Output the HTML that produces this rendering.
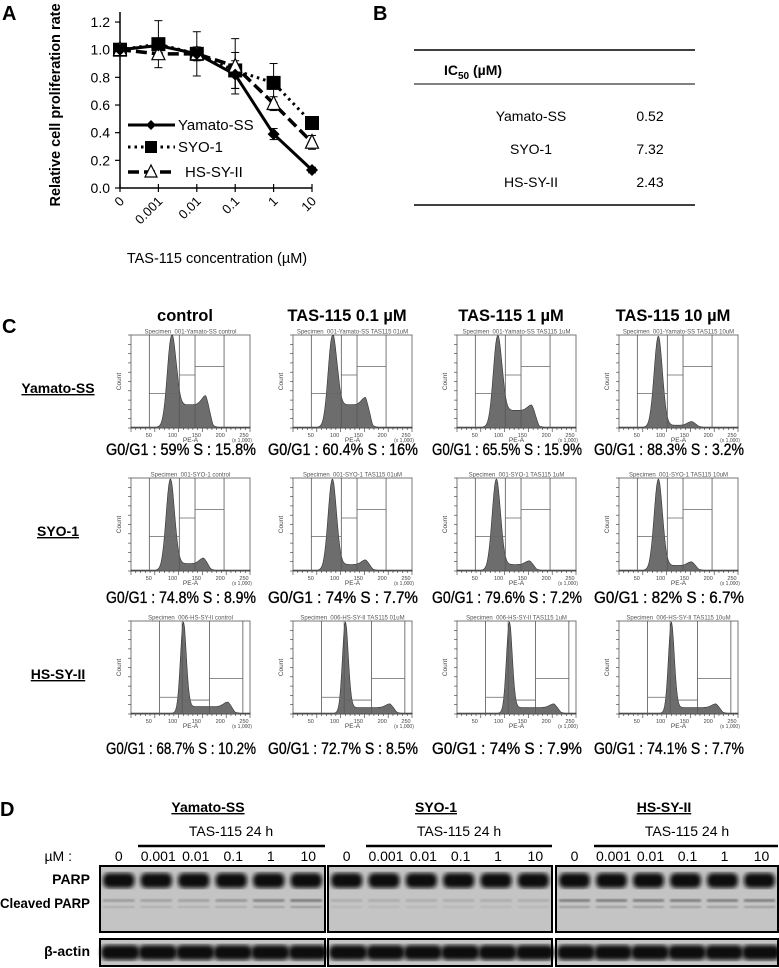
<!DOCTYPE html>
<html><head><meta charset="utf-8"><style>
html,body{margin:0;padding:0;background:#fff}
svg{display:block;font-family:"Liberation Sans",sans-serif}
</style></head><body>
<svg id="fig" width="779" height="968" viewBox="0 0 779 968" xmlns="http://www.w3.org/2000/svg">
<defs>
<filter id="blur2"><feGaussianBlur stdDeviation="2"/></filter>
<filter id="blur1"><feGaussianBlur stdDeviation="1"/></filter>
</defs>
<g id="panelA">
<text x="2" y="20" font-size="20" font-weight="bold">A</text>
<text transform="translate(60,105) rotate(-90)" text-anchor="middle" font-size="14.5" font-weight="bold">Relative cell proliferation rate</text>
<text x="217" y="263" text-anchor="middle" font-size="14.5">TAS-115 concentration (µM)</text>
</g>
<g>
<text x="373" y="20" font-size="20" font-weight="bold">B</text>
<line x1="414" y1="50" x2="695" y2="50" stroke="#000" stroke-width="1.5"/>
<text x="444" y="75" font-size="14" font-weight="bold">IC<tspan font-size="10" dy="4">50</tspan><tspan dy="-4"> (µM)</tspan></text>
<line x1="414" y1="84" x2="695" y2="84" stroke="#000" stroke-width="1"/>
<text x="531" y="121" text-anchor="middle" font-size="14">Yamato-SS</text>
<text x="650" y="121" text-anchor="middle" font-size="14">0.52</text>
<text x="531" y="154" text-anchor="middle" font-size="14">SYO-1</text>
<text x="650" y="154" text-anchor="middle" font-size="14">7.32</text>
<text x="531" y="187" text-anchor="middle" font-size="14">HS-SY-II</text>
<text x="650" y="187" text-anchor="middle" font-size="14">2.43</text>
<line x1="414" y1="205" x2="695" y2="205" stroke="#000" stroke-width="1.5"/>
</g>
<g id="panelC">
<text x="2" y="333" font-size="20" font-weight="bold">C</text>
</g>
<g id="panelD">
<text x="0" y="816" font-size="20" font-weight="bold">D</text>
</g>
</svg>
<script>
const NS="http://www.w3.org/2000/svg";
function mk(tag,attrs,parent,txt){const e=document.createElementNS(NS,tag);for(const k in attrs)e.setAttribute(k,attrs[k]);if(txt!==undefined)e.textContent=txt;parent.appendChild(e);return e;}
// ---------- Panel A data ----------
const concLabels=['0','0.001','0.01','0.1','1','10'];
const yTicks=[0,0.2,0.4,0.6,0.8,1.0,1.2];
const yamatoVals=[1.0,1.03,0.97,0.82,0.39,0.13];
const syoVals=[1.0,1.04,0.97,0.85,0.76,0.47];
const hsVals=[1.0,0.97,0.97,0.88,0.61,0.33];
const yamatoErr=[0,0.03,0.03,0.10,0.04,0.02];
const syoErr=[0,0.17,0.16,0.13,0.14,0.03];
const hsErr=[0,0.04,0.05,0.20,0.05,0.05];

const A=document.getElementById('panelA');
const ax=i=>120+i*38.4;
const ay=v=>188-v*138.3;
mk('line',{x1:120,y1:ay(0),x2:312,y2:ay(0),stroke:'#000','stroke-width':1.5},A);
mk('line',{x1:120,y1:ay(0),x2:120,y2:12,stroke:'#000','stroke-width':1.5},A);
yTicks.forEach(v=>{
  mk('line',{x1:115,y1:ay(v),x2:120,y2:ay(v),stroke:'#000','stroke-width':1.2},A);
  const t=mk('text',{x:110,y:ay(v)+5,'text-anchor':'end','font-size':14},A,v.toFixed(1));
  
  
});
concLabels.forEach((c,i)=>{
  mk('line',{x1:ax(i),y1:ay(0)-4,x2:ax(i),y2:ay(0)+4,stroke:'#000','stroke-width':1.2},A);
  const t=mk('text',{x:0,y:0,'text-anchor':'end','font-size':13,transform:`translate(${ax(i)+5},${ay(0)+14}) rotate(-45)`},A,c);
  
  
});
function errbars(vals,errs){vals.forEach((v,i)=>{if(!errs[i])return;const x=ax(i);
  mk('line',{x1:x,y1:ay(v-errs[i]),x2:x,y2:ay(v+errs[i]),stroke:'#000','stroke-width':1},A);
  mk('line',{x1:x-4,y1:ay(v+errs[i]),x2:x+4,y2:ay(v+errs[i]),stroke:'#000','stroke-width':1},A);
  mk('line',{x1:x-4,y1:ay(v-errs[i]),x2:x+4,y2:ay(v-errs[i]),stroke:'#000','stroke-width':1},A);});}
errbars(syoVals,syoErr);errbars(hsVals,hsErr);errbars(yamatoVals,yamatoErr);
function series(vals,dash,w,name){const p=mk('polyline',{points:vals.map((v,i)=>ax(i)+','+ay(v)).join(' '),fill:'none',stroke:'#000','stroke-width':w,'stroke-dasharray':dash,'stroke-linecap':dash?'butt':'round'},A);
  
  }
series(syoVals,'2.5,4',3,'line-syo1');
series(hsVals,'11,5',3.5,'line-hs-sy-ii');
series(yamatoVals,'',3,'line-yamato-ss');
function sq(x,y,s){return mk('rect',{x:x-s/2,y:y-s/2,width:s,height:s,fill:'#000'},A);}
function tri(x,y,s){return mk('polygon',{points:`${x},${y-s*0.6} ${x-s/2},${y+s*0.45} ${x+s/2},${y+s*0.45}`,fill:'#fff',stroke:'#000','stroke-width':1.2},A);}
function dia(x,y,s){return mk('polygon',{points:`${x},${y-s} ${x+s},${y} ${x},${y+s} ${x-s},${y}`,fill:'#000'},A);}
syoVals.forEach((v,i)=>{const m=sq(ax(i),ay(v),14);});
hsVals.forEach((v,i)=>{const m=tri(ax(i),ay(v),13);});
yamatoVals.forEach((v,i)=>{const m=dia(ax(i),ay(v),6);});
const leg=[['Yamato-SS',125,'',3],['SYO-1',147,'2.5,4',3],['HS-SY-II',172,'11,5',3.5]];
leg.forEach((l,k)=>{const g=mk('g',{},A);
  
  
  mk('line',{x1:128,y1:l[1],x2:175,y2:l[1],stroke:'#000','stroke-width':l[3],'stroke-dasharray':l[2]},g);
  if(k===0)mk('polygon',{points:`151,${l[1]-5} 156,${l[1]} 151,${l[1]+5} 146,${l[1]}`,fill:'#000'},g);
  if(k===1)mk('rect',{x:145,y:l[1]-6,width:12,height:12,fill:'#000'},g);
  if(k===2)mk('polygon',{points:`151,${l[1]-7} 145,${l[1]+5} 157,${l[1]+5}`,fill:'#fff',stroke:'#000','stroke-width':1.2},g);
  mk('text',{x:k===2?185:178,y:l[1]+5,'font-size':15},g,l[0]);
});
// ---------- Panel C ----------
const C=document.getElementById('panelC');
const colLabels=['control','TAS-115 0.1 µM','TAS-115 1 µM','TAS-115 10 µM'];
const rowLabels=['Yamato-SS','SYO-1','HS-SY-II'];
const g1Vals=[['59%','60.4%','65.5%','88.3%'],['74.8%','74%','79.6%','82%'],['68.7%','72.7%','74%','74.1%']];
const sVals=[['15.8%','16%','15.9%','3.2%'],['8.9%','7.7%','7.2%','6.7%'],['10.2%','8.5%','7.9%','7.7%']];
const g1Pos=[[0.34,0.33,0.34,0.33],[0.33,0.33,0.33,0.33],[0.44,0.44,0.44,0.44]];
const sLevel=[[0.24,0.24,0.18,0.02],[0.07,0.06,0.06,0.05],[0.07,0.06,0.06,0.06]];
const g2Height=[[0.10,0.08,0.06,0.04],[0.06,0.05,0.04,0.04],[0.05,0.04,0.04,0.04]];
const colX=[131,293,457,619];
const rowY=[335,478,621];
const BW=119,BH=93;
colLabels.forEach((c,j)=>{const t=mk('text',{x:colX[j]+54,y:321,'text-anchor':'middle','font-size':16.5,'font-weight':'bold'},C,c);
  
  });
rowLabels.forEach((r,i)=>{const t=mk('text',{x:58,y:rowY[i]+58,'text-anchor':'middle','font-size':14,'font-weight':'bold','text-decoration':'underline'},C,r);
  
  });
const gatesA=[0.154,0.406,0.538,0.782];
const gatesB=[0.24,0.43,0.66,0.94];
for(let i=0;i<3;i++)for(let j=0;j<4;j++){
  const x0=colX[j],y0=rowY[i];
  const g=mk('g',{},C);
  
  
  mk('text',{x:x0+BW/2,y:y0-1.5,'text-anchor':'middle','font-size':6,fill:'#555'},g,'Specimen_00'+(i===2?'6':'1')+'-'+rowLabels[i]+(j?' TAS115 '+['','01uM','1uM','10uM'][j]:' control'));
  mk('rect',{x:x0,y:y0,width:BW,height:BH,fill:'#fff',stroke:'#777','stroke-width':1},g);
  const mu=g1Pos[i][j],sl=sLevel[i][j],g2=g2Height[i][j],sig=i===2?0.025:0.035;
  let pts=[];const N=120;const g2m=mu*1.85;
  for(let k=0;k<=N;k++){const u=k/N;
    let d=0.01+Math.exp(-Math.pow((u-mu)/sig,2)/2)*0.98;
    if(u>mu&&u<g2m+0.06)d+=sl*Math.min(1,(u-mu)/0.05)*(u<g2m?1:Math.max(0,1-(u-g2m)/0.06));
    d+=g2*Math.exp(-Math.pow((u-g2m)/0.035,2)/2);
    if(u<mu-0.14||u>g2m+0.12)d=0.01;
    pts.push([x0+u*BW,y0+BH-Math.min(1,d)*BH]);}
  mk('path',{d:'M'+x0+','+(y0+BH)+' '+pts.map(p=>'L'+p[0].toFixed(1)+','+p[1].toFixed(1)).join(' ')+' L'+(x0+BW)+','+(y0+BH)+'Z',fill:'#6d6d6d',stroke:'#333','stroke-width':0.6},g);
  const gates=i===2?gatesB:gatesA;
  gates.forEach(u=>mk('line',{x1:x0+u*BW,y1:y0,x2:x0+u*BW,y2:y0+BH,stroke:'#555','stroke-width':0.8},g));
  const hs=i===2?[0.82,0.85,0.62,0.57]:[0.63,0.43,0.34,0.6];
  for(let k=0;k<3;k++)mk('line',{x1:x0+gates[k]*BW,y1:y0+hs[k]*BH,x2:x0+gates[k+1]*BW,y2:y0+hs[k]*BH,stroke:'#666','stroke-width':0.8},g);
  for(let k=0;k<=25;k++)mk('line',{x1:x0+k*BW/25,y1:y0+BH,x2:x0+k*BW/25,y2:y0+BH+(k%5?2:4),stroke:'#333','stroke-width':0.6},g);
  for(let k=0;k<=10;k++)mk('line',{x1:x0-3,y1:y0+k*BH/10,x2:x0,y2:y0+k*BH/10,stroke:'#333','stroke-width':0.6},g);
  mk('text',{x:x0-10,y:y0+BH/2,'text-anchor':'middle','font-size':6.5,fill:'#444',transform:`rotate(-90 ${x0-10} ${y0+BH/2})`},g,'Count');
  mk('text',{x:x0+BW/2,y:y0+BH+14,'text-anchor':'middle','font-size':6.5,fill:'#444'},g,'PE-A');
  ['50','100','150','200','250'].forEach((s,k)=>mk('text',{x:x0+(k+1)*BW/5-6,y:y0+BH+9,'text-anchor':'middle','font-size':5.5,fill:'#444'},g,s));
  mk('text',{x:x0+BW-8,y:y0+BH+14,'text-anchor':'middle','font-size':5,fill:'#444'},g,'(x 1,000)');
  const ty=[455,603,754][i];
  const t=mk('text',{x:x0+50,y:ty,'text-anchor':'middle','font-size':16.5,stroke:'#000','stroke-width':0.35,textLength:150,lengthAdjust:'spacingAndGlyphs'},C,'G0/G1 : '+g1Vals[i][j]+' S : '+sVals[i][j]);
  
  
}
// ---------- Panel D ----------
const D=document.getElementById('panelD');
const lanes=['0','0.001','0.01','0.1','1','10'];
const blotNames=['Yamato-SS','SYO-1','HS-SY-II'];
const blotX=[100,328,556];const blotW=[225,224,222];
const cleaved=[[0.35,0.3,0.3,0.4,0.55,0.65],[0.2,0.2,0.2,0.2,0.2,0.2],[0.6,0.6,0.6,0.6,0.6,0.6]];
[['PARP',884,0],['Cleaved PARP',908,90],['β-actin',956,0]].forEach(l=>{const a={x:90,y:l[1],'text-anchor':'end','font-size':14,'font-weight':'bold'};if(l[2]){a.textLength=l[2];a.lengthAdjust='spacingAndGlyphs';}
  const t=mk('text',a,D,l[0]);
  
  });
const mu=mk('text',{x:72,y:861,'text-anchor':'end','font-size':14},D,'µM :');


blotNames.forEach((n,b)=>{
  const bx=blotX[b],bw=blotW[b],lw=bw/6;
  const h=mk('text',{x:bx+108,y:812,'text-anchor':'middle','font-size':14,'font-weight':'bold','text-decoration':'underline'},D,n);
  
  
  mk('text',{x:bx+131,y:836,'text-anchor':'middle','font-size':14},D,'TAS-115   24 h');
  mk('line',{x1:bx+38,y1:846,x2:bx+bw,y2:846,stroke:'#000','stroke-width':2.5},D);
  lanes.forEach((l,k)=>mk('text',{x:bx+lw*(k+0.5)+(k===0?0:2),y:861,'text-anchor':'middle','font-size':14},D,l));
  const g=mk('g',{},D);
  
  
  mk('rect',{x:bx,y:866,width:bw,height:66,fill:'#c4c4c4',stroke:'#000','stroke-width':2},g);
  mk('rect',{x:bx,y:939,width:bw,height:27,fill:'#c4c4c4',stroke:'#000','stroke-width':2},g);
  lanes.forEach((l,k)=>{const lx=bx+lw*k+3;
    mk('rect',{x:lx,y:873,width:lw-6,height:15,rx:6,fill:'#111',filter:'url(#blur2)'},g);
    const c=cleaved[b][k];
    mk('rect',{x:lx,y:899,width:lw-6,height:3,fill:'#000',opacity:c*0.6,filter:'url(#blur1)'},g);
    mk('rect',{x:lx,y:906,width:lw-6,height:2,fill:'#000',opacity:c*0.4,filter:'url(#blur1)'},g);
    mk('rect',{x:lx-2,y:945,width:lw+1,height:15,rx:6,fill:'#111',filter:'url(#blur2)'},g);
  });
  mk('rect',{x:bx,y:866,width:bw,height:66,fill:'none',stroke:'#000','stroke-width':2},g);
  mk('rect',{x:bx,y:939,width:bw,height:27,fill:'none',stroke:'#000','stroke-width':2},g);
});
</script>
</body></html>
